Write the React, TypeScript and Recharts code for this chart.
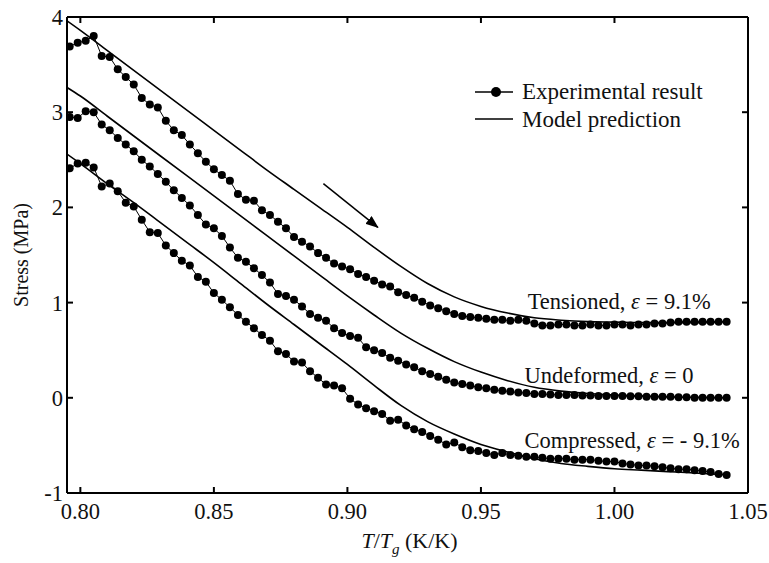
import React from 'react';
import { ComposedChart, Line, XAxis, YAxis, ReferenceLine, ReferenceDot, Label } from 'recharts';

// experimental temperatures (T/Tg), shared by the three measured curves
const expT = [
  0.796, 0.799, 0.802, 0.805, 0.808, 0.811, 0.814, 0.817, 0.82, 0.823,
  0.826, 0.829, 0.832, 0.835, 0.838, 0.841, 0.844, 0.847, 0.85, 0.853,
  0.856, 0.859, 0.862, 0.865, 0.868, 0.871, 0.874, 0.877, 0.88, 0.883,
  0.886, 0.889, 0.892, 0.895, 0.898, 0.901, 0.904, 0.907, 0.91, 0.913,
  0.916, 0.919, 0.922, 0.925, 0.928, 0.931, 0.934, 0.937, 0.94, 0.943,
  0.946, 0.949, 0.952, 0.955, 0.958, 0.961, 0.964, 0.967, 0.97, 0.973,
  0.976, 0.979, 0.982, 0.985, 0.988, 0.991, 0.994, 0.997, 1.0, 1.003,
  1.006, 1.009, 1.012, 1.015, 1.018, 1.021, 1.024, 1.027, 1.03, 1.033,
  1.036, 1.039, 1.042,
];

const expTension = [
  3.69, 3.73, 3.75, 3.8, 3.59, 3.58, 3.45, 3.37, 3.29, 3.15,
  3.08, 3.05, 2.91, 2.81, 2.76, 2.66, 2.57, 2.48, 2.4, 2.34,
  2.28, 2.14, 2.08, 2.07, 1.97, 1.92, 1.85, 1.78, 1.69, 1.64,
  1.59, 1.52, 1.47, 1.41, 1.38, 1.35, 1.3, 1.27, 1.23, 1.19,
  1.17, 1.11, 1.08, 1.05, 1.01, 0.97, 0.94, 0.91, 0.88, 0.86,
  0.85, 0.84, 0.83, 0.82, 0.82, 0.81, 0.82, 0.81, 0.78, 0.76,
  0.76, 0.77, 0.77, 0.76, 0.76, 0.77, 0.76, 0.76, 0.77, 0.77,
  0.76, 0.77, 0.77, 0.78, 0.78, 0.79, 0.8, 0.8, 0.8, 0.8,
  0.8, 0.8, 0.8,
];

const expUndeformed = [
  2.95, 2.94, 3.01, 3.0, 2.87, 2.81, 2.73, 2.66, 2.59, 2.5,
  2.43, 2.35, 2.27, 2.18, 2.1, 2.02, 1.92, 1.82, 1.78, 1.7,
  1.58, 1.47, 1.43, 1.36, 1.29, 1.21, 1.09, 1.07, 1.03, 0.96,
  0.88, 0.84, 0.81, 0.73, 0.68, 0.65, 0.63, 0.53, 0.5, 0.47,
  0.42, 0.39, 0.35, 0.32, 0.28, 0.25, 0.22, 0.19, 0.16, 0.145,
  0.13, 0.11, 0.1, 0.085, 0.075, 0.065, 0.055, 0.05, 0.04, 0.04,
  0.035, 0.03, 0.03, 0.03, 0.025, 0.025, 0.02, 0.02, 0.02, 0.02,
  0.015, 0.015, 0.01, 0.01, 0.01, 0.01, 0.005, 0.005, 0, 0,
  0, 0, 0,
];

const expCompressed = [
  2.41, 2.46, 2.47, 2.42, 2.22, 2.25, 2.17, 2.05, 2.01, 1.87,
  1.74, 1.73, 1.6, 1.52, 1.44, 1.39, 1.27, 1.22, 1.1, 1.03,
  0.95, 0.87, 0.8, 0.73, 0.66, 0.6, 0.49, 0.46, 0.38, 0.37,
  0.28, 0.21, 0.14, 0.13, 0.1, -0.01, -0.07, -0.11, -0.14, -0.17,
  -0.24, -0.23, -0.29, -0.33, -0.36, -0.4, -0.44, -0.49, -0.47, -0.52,
  -0.55, -0.56, -0.58, -0.6, -0.58, -0.6, -0.61, -0.62, -0.62, -0.63,
  -0.64, -0.64, -0.64, -0.65, -0.65, -0.65, -0.66, -0.67, -0.67, -0.69,
  -0.7, -0.71, -0.71, -0.72, -0.73, -0.74, -0.75, -0.75, -0.76, -0.77,
  -0.78, -0.8, -0.81,
];

// model predictions
const modelT = [
  0.795, 0.8, 0.81, 0.82, 0.83, 0.84, 0.85, 0.86, 0.87, 0.88, 0.89, 0.9, 0.91,
  0.92, 0.93, 0.94, 0.95, 0.96, 0.97, 0.98, 0.99, 1.0, 1.01, 1.02, 1.03, 1.043,
];
const modelTension = [
  3.96, 3.86, 3.65, 3.44, 3.23, 3.02, 2.81, 2.6, 2.39, 2.19, 1.99, 1.79, 1.58,
  1.38, 1.2, 1.06, 0.96, 0.89, 0.84, 0.815, 0.8, 0.795, 0.79, 0.79, 0.79, 0.8,
];
const modelUndeformed = [
  3.26, 3.17, 2.96, 2.75, 2.54, 2.33, 2.12, 1.91, 1.7, 1.49, 1.28, 1.07, 0.87,
  0.68, 0.52, 0.38, 0.27, 0.18, 0.11, 0.07, 0.045, 0.03, 0.02, 0.01, 0.005, 0,
];
const modelCompressed = [
  2.56, 2.46, 2.25, 2.05, 1.84, 1.63, 1.42, 1.2, 0.98, 0.77, 0.56, 0.35, 0.13,
  -0.08, -0.25, -0.38, -0.49, -0.57, -0.64, -0.69, -0.72, -0.745, -0.76, -0.775, -0.79, -0.81,
];

const xTicks = [0.8, 0.85, 0.9, 0.95, 1.0, 1.05];
const yTicks = [-1, 0, 1, 2, 3, 4];

// arrow (heating direction), in data units
const arrowStart = { x: 0.891, y: 2.25 };
const arrowEnd = { x: 0.9114, y: 1.79 };

const curveNotes = [
  { x: 0.9675, y: 0.93, name: 'Tensioned', strain: '9.1%' },
  { x: 0.9663, y: 0.16, name: 'Undeformed', strain: '0' },
  { x: 0.9663, y: -0.53, name: 'Compressed', strain: '- 9.1%' },
];

const toRows = (xs: number[], ys: number[]) => xs.map((t, i) => ({ t, v: ys[i] }));

const FONT = '"Liberation Serif", "DejaVu Serif", serif';
const INK = '#000';
const TEXT = '#111';
const TICK = 6;

const dotStyle = { r: 4, fill: INK, stroke: INK, strokeWidth: 0 } as const;

const BottomTick = ({ x, y, payload }: any) => (
  <g>
    <line x1={x} y1={y} x2={x} y2={y - TICK} stroke={INK} strokeWidth={2} />
    <text x={x} y={y + 26} textAnchor="middle" fontSize={22.5} fontFamily={FONT} fill={TEXT}>
      {payload.value.toFixed(2)}
    </text>
  </g>
);

const TopTick = ({ x, y }: any) => (
  <line x1={x} y1={y} x2={x} y2={y + TICK} stroke={INK} strokeWidth={2} />
);

const LeftTick = ({ x, y, payload }: any) => (
  <g>
    <line x1={x} y1={y} x2={x + TICK} y2={y} stroke={INK} strokeWidth={2} />
    <text x={x - 4} y={y + 8} textAnchor="end" fontSize={22.5} fontFamily={FONT} fill={TEXT}>
      {payload.value}
    </text>
  </g>
);

const RightTick = ({ x, y }: any) => (
  <line x1={x} y1={y} x2={x - TICK} y2={y} stroke={INK} strokeWidth={2} />
);

const XTitle = ({ viewBox }: any) => {
  const cx = viewBox.x + viewBox.width / 2;
  return (
    <text x={cx + 2} y={viewBox.y + 55} textAnchor="middle" fontSize={22} fontFamily={FONT} fill={TEXT}>
      <tspan fontStyle="italic">T</tspan>
      <tspan>/</tspan>
      <tspan fontStyle="italic">T</tspan>
      <tspan fontStyle="italic" fontSize={15} dy={6}>g</tspan>
      <tspan dy={-6}> (K/K)</tspan>
    </text>
  );
};

const YTitle = ({ viewBox }: any) => {
  const cy = viewBox.y + viewBox.height / 2;
  const x = 28;
  return (
    <text x={x} y={cy} transform={`rotate(-90 ${x} ${cy})`} textAnchor="middle" fontSize={20} fontFamily={FONT} fill={TEXT}>
      Stress (MPa)
    </text>
  );
};

const NoteLabel = (name: string, strain: string) => ({ viewBox }: any) => (
  <text x={viewBox.x} y={viewBox.y} fontSize={22.5} fontFamily={FONT} fill={TEXT}>
    {name}, <tspan fontStyle="italic">ε</tspan> = {strain}
  </text>
);

const LegendBox = () => (
  <div
    style={{
      position: 'absolute',
      left: 475,
      top: 78,
      fontFamily: FONT,
      fontSize: 23,
      color: TEXT,
      lineHeight: '27.5px',
    }}
  >
    <div style={{ display: 'flex', alignItems: 'center' }}>
      <svg width={40} height={12} style={{ marginRight: 7 }}>
        <line x1={0} y1={6} x2={38} y2={6} stroke={INK} strokeWidth={1.5} />
        <circle cx={21} cy={6} r={5} fill={INK} />
      </svg>
      Experimental result
    </div>
    <div style={{ display: 'flex', alignItems: 'center' }}>
      <svg width={40} height={12} style={{ marginRight: 7 }}>
        <line x1={0} y1={6} x2={38} y2={6} stroke={INK} strokeWidth={1.5} />
      </svg>
      Model prediction
    </div>
  </div>
);

export default function App() {
  return (
    <div style={{ position: 'absolute', left: 0, top: 0, width: 769, height: 563, background: '#fff' }}>
      <ComposedChart width={769} height={563} margin={{ top: 12, right: 0, bottom: 0, left: 0 }}>
        <defs>
          <marker id="arrowHead" markerWidth="13" markerHeight="10" refX="12" refY="5" orient="auto" markerUnits="userSpaceOnUse">
            <path d="M0,0 L13,5 L0,10 Z" fill={INK} />
          </marker>
        </defs>
        <XAxis
          xAxisId="bottom"
          type="number"
          dataKey="t"
          domain={[0.795, 1.05]}
          ticks={xTicks}
          allowDataOverflow
          height={70}
          axisLine={{ stroke: INK, strokeWidth: 2 }}
          tickLine={false}
          tickSize={0}
          tickMargin={0}
          tick={<BottomTick />}
          interval={0}
        >
          <Label content={<XTitle />} />
        </XAxis>
        <XAxis
          xAxisId="top"
          orientation="top"
          type="number"
          dataKey="t"
          domain={[0.795, 1.05]}
          ticks={xTicks}
          allowDataOverflow
          height={5}
          axisLine={{ stroke: INK, strokeWidth: 2 }}
          tickLine={false}
          tickSize={0}
          tickMargin={0}
          tick={<TopTick />}
          interval={0}
        />
        <YAxis
          yAxisId="left"
          type="number"
          domain={[-1, 4]}
          ticks={yTicks}
          allowDataOverflow
          width={67}
          axisLine={{ stroke: INK, strokeWidth: 2 }}
          tickLine={false}
          tickSize={0}
          tickMargin={0}
          tick={<LeftTick />}
          interval={0}
        >
          <Label content={<YTitle />} />
        </YAxis>
        <YAxis
          yAxisId="right"
          orientation="right"
          type="number"
          domain={[-1, 4]}
          ticks={yTicks}
          allowDataOverflow
          width={21}
          axisLine={{ stroke: INK, strokeWidth: 2 }}
          tickLine={false}
          tickSize={0}
          tickMargin={0}
          tick={<RightTick />}
          interval={0}
        />

        {[modelTension, modelUndeformed, modelCompressed].map((ys, i) => (
          <Line
            key={`m${i}`}
            xAxisId="bottom"
            yAxisId="left"
            data={toRows(modelT, ys)}
            dataKey="v"
            type="monotone"
            stroke={INK}
            strokeWidth={1.6}
            dot={false}
            isAnimationActive={false}
          />
        ))}
        {[expTension, expUndeformed, expCompressed].map((ys, i) => (
          <Line
            key={`e${i}`}
            xAxisId="bottom"
            yAxisId="left"
            data={toRows(expT, ys)}
            dataKey="v"
            type="linear"
            stroke={INK}
            strokeWidth={1}
            dot={dotStyle}
            isAnimationActive={false}
          />
        ))}

        <ReferenceLine
          xAxisId="bottom"
          yAxisId="left"
          segment={[arrowStart, arrowEnd]}
          stroke={INK}
          strokeWidth={1.5}
          markerEnd="url(#arrowHead)"
        />
        {curveNotes.map((n) => (
          <ReferenceDot
            key={n.name}
            xAxisId="bottom"
            yAxisId="left"
            x={n.x}
            y={n.y}
            r={0}
            stroke="none"
            label={{ content: NoteLabel(n.name, n.strain) }}
          />
        ))}
      </ComposedChart>
      <LegendBox />
    </div>
  );
}
